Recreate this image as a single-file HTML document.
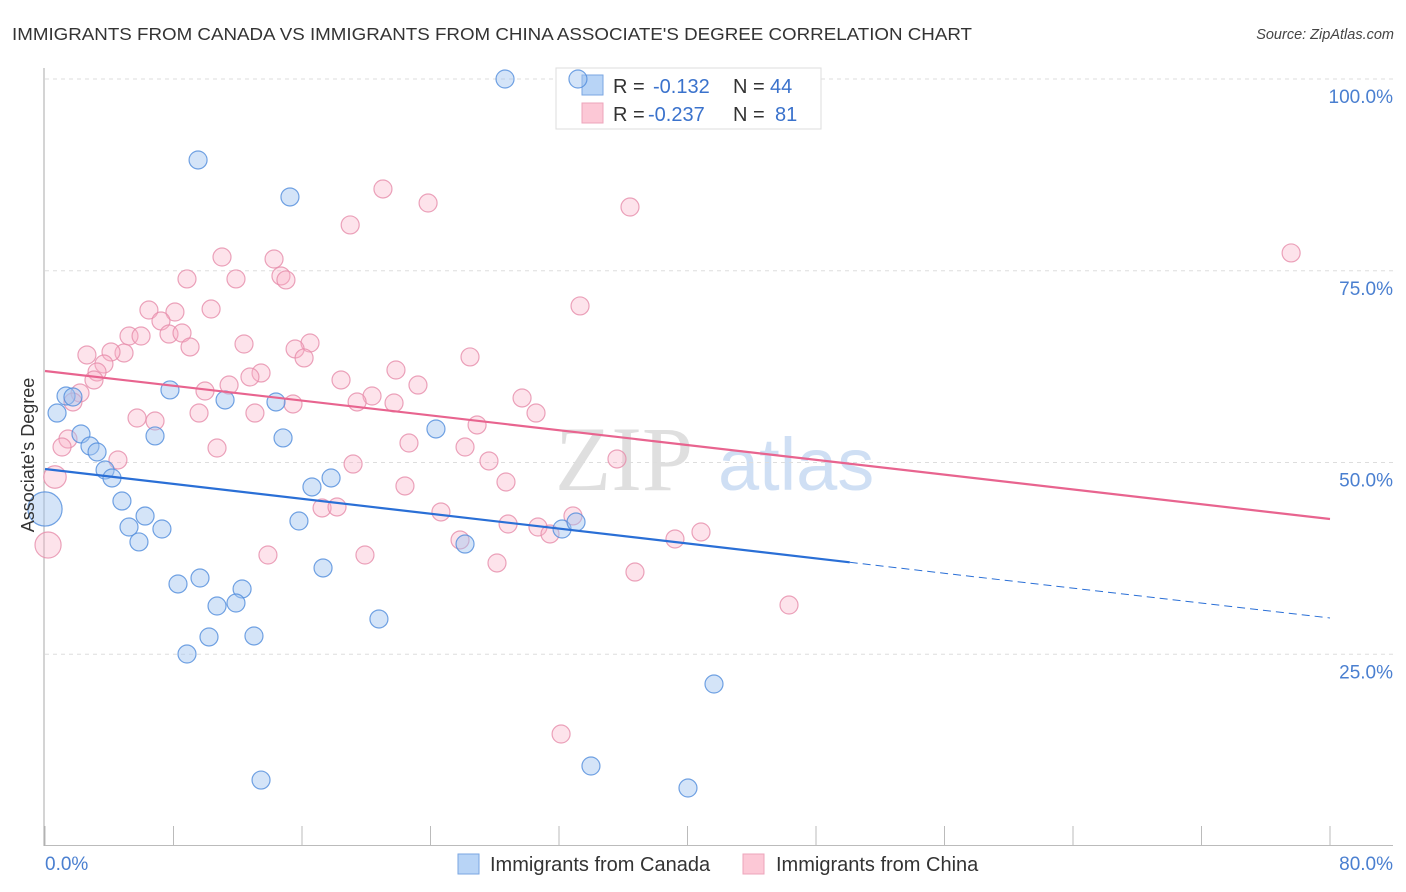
<!DOCTYPE html>
<html><head><meta charset="utf-8">
<style>
body{margin:0;background:#fff;}
svg{display:block;font-family:"Liberation Sans",sans-serif;}
</style></head>
<body>
<svg id="chart" width="1406" height="892" viewBox="0 0 1406 892" xmlns="http://www.w3.org/2000/svg">
<text x="12" y="40" font-size="17.5" fill="#333" textLength="960" lengthAdjust="spacingAndGlyphs">IMMIGRANTS FROM CANADA VS IMMIGRANTS FROM CHINA ASSOCIATE'S DEGREE CORRELATION CHART</text>
<text x="1394" y="39" font-size="14.5" font-style="italic" fill="#444" text-anchor="end">Source: ZipAtlas.com</text>
<g>
<text x="555" y="490" font-size="92" font-family="Liberation Serif,serif" fill="#d8d8d8" opacity="0.8">ZIP</text>
<text x="718" y="490" font-size="74" fill="#c4d8f2" opacity="0.8">atlas</text>
</g>
<g id="grid"></g>
<g id="axes"></g>
<g>
<rect x="556" y="68" width="265" height="61" fill="#fff" stroke="#ddd"/>
<rect x="582" y="75" width="21" height="20" fill="#b8d4f6" stroke="#7aa6e2"/>
<rect x="582" y="103" width="21" height="20" fill="#fcc8d6" stroke="#eda4bb"/>
<text x="613" y="93" font-size="20" fill="#333">R = </text><text x="653" y="93" font-size="20" fill="#3a72cc">-0.132</text>
<text x="733" y="93" font-size="20" fill="#333">N = </text><text x="770" y="93" font-size="20" fill="#3a72cc">44</text>
<text x="613" y="121" font-size="20" fill="#333">R = </text><text x="648" y="121" font-size="20" fill="#3a72cc">-0.237</text>
<text x="733" y="121" font-size="20" fill="#333">N = </text><text x="775" y="121" font-size="20" fill="#3a72cc">81</text>
</g>
<g id="pts"></g>
<g id="trends"></g>
<g>
<rect x="458" y="854" width="21" height="20" fill="#b8d4f6" stroke="#7aa6e2"/>
<text x="490" y="871" font-size="20" fill="#333">Immigrants from Canada</text>
<rect x="743" y="854" width="21" height="20" fill="#fcc8d6" stroke="#eda4bb"/>
<text x="776" y="871" font-size="20" fill="#333">Immigrants from China</text>
</g>
<text transform="translate(34,455) rotate(-90)" font-size="18" fill="#333" text-anchor="middle">Associate's Degree</text>
</svg>
<script>
const canadaX=[28.64,33.18,9.53,15.25,1.31,1.74,0.75,7.78,11.21,14.38,2.24,2.80,3.24,6.85,14.82,24.34,3.74,4.17,17.81,16.62,4.79,6.23,5.23,7.28,5.85,15.81,26.15,32.19,33.06,17.31,8.28,9.65,12.27,10.71,11.89,20.79,10.21,13.01,8.84,41.65,13.45,33.99,40.03,0];
const canadaY=[100,100,89.44,84.62,58.67,58.54,56.45,59.46,58.15,57.89,53.72,52.15,51.37,53.46,53.20,54.37,49.02,47.98,47.98,46.81,44.98,43.02,41.59,41.33,39.64,42.37,39.37,41.33,42.24,36.25,34.16,34.94,33.51,31.29,31.68,29.60,27.25,27.38,25.03,21.12,8.60,10.43,7.56,43.94];
const canadaSize=[1,1,1,1,1,1,1,1,1,1,1,1,1,1,1,1,1,1,1,1,1,1,1,1,1,1,1,1,1,1,1,1,1,1,1,1,1,1,1,1,1,1,1,1.9];
const chinaX=[36.42,21.04,23.85,19.00,77.58,11.02,14.26,14.69,15.00,8.84,11.89,33.31,6.47,8.09,10.34,7.22,5.23,5.98,7.72,8.53,9.03,12.39,16.50,15.57,16.13,26.46,2.61,4.92,4.11,3.67,3.24,3.05,13.45,21.85,12.76,18.43,11.46,23.22,9.96,2.18,1.74,20.36,19.43,21.73,15.44,29.70,9.59,13.07,5.73,6.85,30.57,26.90,22.66,1.43,1.06,10.71,26.15,4.54,19.18,27.64,35.61,0.62,22.41,28.70,17.25,18.18,24.65,32.87,28.83,30.69,31.44,39.22,40.84,25.84,19.92,13.88,28.14,36.73,46.32,32.13,0.19];
const chinaY=[83.31,85.66,83.83,80.97,77.32,76.79,76.53,74.32,73.80,73.93,73.93,70.41,69.88,69.62,70.01,68.45,66.49,66.49,66.75,66.88,65.06,65.45,65.58,64.80,63.63,63.76,64.02,64.28,64.41,62.84,61.80,60.76,61.67,62.06,61.15,60.76,60.10,60.10,59.32,59.06,57.89,58.67,57.89,57.76,57.63,58.41,56.45,56.45,55.80,55.41,56.45,54.89,52.54,53.06,52.02,51.89,52.02,50.33,49.80,50.20,50.46,48.11,46.94,47.46,44.07,44.20,43.55,43.03,41.98,41.59,40.68,40.03,40.94,39.90,37.94,37.94,36.90,35.72,31.42,14.60,39.24];
const chinaSize=[1,1,1,1,1,1,1,1,1,1,1,1,1,1,1,1,1,1,1,1,1,1,1,1,1,1,1,1,1,1,1,1,1,1,1,1,1,1,1,1,1,1,1,1,1,1,1,1,1,1,1,1,1,1,1,1,1,1,1,1,1,1.25,1,1,1,1,1,1,1,1,1,1,1,1,1,1,1,1,1,1,1.45];
const canadaTrend=[49.15,29.73]; // y at x=0 and x=80
const chinaTrend=[61.93,42.63];
const canadaSolidEnd=[50.1];
const yTicks=[25,50,75,100];
const yTickLabels=["25.0%","50.0%","75.0%","100.0%"];
const xTicks=[0,8,16,24,32,40,48,56,64,72,80];

const NS="http://www.w3.org/2000/svg";
const X0=45,X1=1330,Y0=846,Y100=79;
function sx(v){return X0+(X1-X0)*v/80;}
function sy(v){return Y0-(Y0-Y100)*v/100;}
function mk(tag,attrs,parent){const e=document.createElementNS(NS,tag);for(const k in attrs)e.setAttribute(k,attrs[k]);parent.appendChild(e);return e;}
const grid=document.getElementById('grid'),axes=document.getElementById('axes'),pts=document.getElementById('pts'),trends=document.getElementById('trends');
yTicks.forEach((t,i)=>{
  const l=mk('line',{x1:X0,x2:1393,y1:sy(t),y2:sy(t),stroke:'#ddd','stroke-dasharray':'4,4'},grid);
  
  
  const tx=mk('text',{x:1393,y:sy(t)+24,'font-size':19,fill:'#4a7fd0','text-anchor':'end'},axes);
  tx.textContent=yTickLabels[i];
  
  
});
const ya=mk('line',{x1:44,x2:44,y1:68,y2:Y0,stroke:'#aaa'},axes);


const xa=mk('line',{x1:X0,x2:1393,y1:Y0-0.5,y2:Y0-0.5,stroke:'#bbb'},axes);


xTicks.forEach(t=>{
  const l=mk('line',{x1:sx(t),x2:sx(t),y1:826,y2:Y0,stroke:'#bbb'},axes);
  
  
});
const xl0=mk('text',{x:45,y:870,'font-size':19,fill:'#4a7fd0'},axes);xl0.textContent='0.0%';


const xl1=mk('text',{x:1393,y:870,'font-size':19,fill:'#4a7fd0','text-anchor':'end'},axes);xl1.textContent='80.0%';



function drawPts(xs,ys,sz,fill,stroke,name){
  xs.forEach((x,i)=>{
    const c=mk('circle',{cx:sx(x),cy:sy(ys[i]),r:9*sz[i],fill:fill,stroke:stroke,'stroke-width':1.2},pts);
    
    
  });
}
drawPts(chinaX,chinaY,chinaSize,'rgba(248,175,198,0.35)','rgba(230,140,170,0.8)','china-point');
drawPts(canadaX,canadaY,canadaSize,'rgba(160,195,240,0.45)','rgba(80,140,220,0.8)','canada-point');

function ty(tr,x){return tr[0]+(tr[1]-tr[0])*x/80;}
const e=canadaSolidEnd[0];
const b1=mk('line',{x1:sx(0),y1:sy(ty(canadaTrend,0)),x2:sx(e),y2:sy(ty(canadaTrend,e)),stroke:'#2a6fd6','stroke-width':2.2},trends);


const b2=mk('line',{x1:sx(e),y1:sy(ty(canadaTrend,e)),x2:sx(80),y2:sy(ty(canadaTrend,80)),stroke:'#2a6fd6','stroke-width':1,'stroke-dasharray':'8,5'},trends);


const p1=mk('line',{x1:sx(0),y1:sy(ty(chinaTrend,0)),x2:sx(80),y2:sy(ty(chinaTrend,80)),stroke:'#e8648f','stroke-width':2.2},trends);


</script>
</body></html>
